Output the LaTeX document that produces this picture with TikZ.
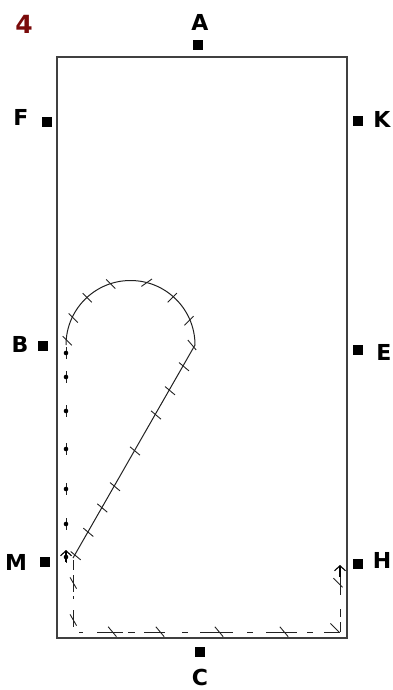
\documentclass[tikz,border=0pt]{standalone}
\usepackage{fontspec}
\setmainfont{DejaVu Sans}
\usepackage{xcolor}
\usetikzlibrary{arrows.meta}
\definecolor{framec}{HTML}{404040}
\definecolor{pathc}{HTML}{222222}
\definecolor{numc}{HTML}{7A0A0A}
\tikzset{
  sqm/.style={fill=black,inner sep=0pt,minimum size=10pt},
  lbl/.style={font=\fontsize{22}{22}\selectfont\bfseries,inner sep=0pt},
  pth/.style={pathc,line width=1pt},
  tk/.style={pathc,line width=0.9pt},
  ar/.style={-{Straight Barb[length=5pt,width=11pt]},black,line width=1.1pt}
}
\begin{document}
\begin{tikzpicture}[x=1pt,y=-1pt]
\useasboundingbox (0,0) rectangle (392,690);
\draw[framec,line width=1.1pt] (57,57) rectangle (347,638);
% station marks and their letters
\foreach \nm/\mx/\my/\lx/\ly in {A/198/45/200/22,F/47/122/21/117,K/358/121/382/119,B/43/346/20/344,
    E/358/350/384/352,M/45/562/16/562,H/358/564/382/560,C/200/652/200/677}{
  \node[sqm] (sq\nm) at (\mx,\my) {};
  \node[lbl] (lbl\nm) at (\lx,\ly) {\nm};
}
\node[lbl,numc,font=\fontsize{25}{25}\selectfont\bfseries] (num) at (24,24) {4};
% loop and straight run
\draw[pth] (66,345) arc[start angle=180,end angle=360,radius=64.5] -- (73,558);
% left run
\foreach \dy in {353,377,411,449,489,524,557}{
  \draw[pth] (66,\dy-6)--(66,\dy+6);
  \fill[black] (66,\dy) circle (2.3pt);
}
\draw[ar] (66,562)--(66,550);
% lower run, broken by hand
\foreach \ya/\yb in {560/570,575/592,596/599,610/627}{
  \draw[pth] (73,\ya)--(73,\yb);
}
\foreach \xa/\xb in {79/83,97/123,128/135,144/165,182/188,200/233,247/253,266/297,307/313,324/340}{
  \draw[pth] (\xa,632)--(\xb,632);
}
\foreach \ya/\yb in {622/632,609/617,576/595}{
  \draw[pth] (340,\ya)--(340,\yb);
}
\draw[ar] (340,577)--(340,565);
% cross ticks
\foreach \tx/\ty/\ta in {67.3/340.7/-45,73.3/318/-45,87.3/297.7/-45,110.7/284/-45,146.7/282.7/35,
    172.3/297.7/45,189/320.7/45,192/345/-50,184/366.7/-40,170/390.7/-40,156/415/-40,135/451/-40,
    115/486.7/-40,102.3/508/-40,88.3/532.3/-40,75.7/555.7/-40,
    73.3/583/-60,73.3/620/-60,112.3/631.7/-50,160/631.7/-50,219/631.7/-50,284/631.7/-50,
    335/628/-45,338/582.7/-45}{
  \draw[tk,shift={(\tx,\ty)},rotate=\ta] (-6.5,0)--(6.5,0);
}
\end{tikzpicture}
\end{document}
